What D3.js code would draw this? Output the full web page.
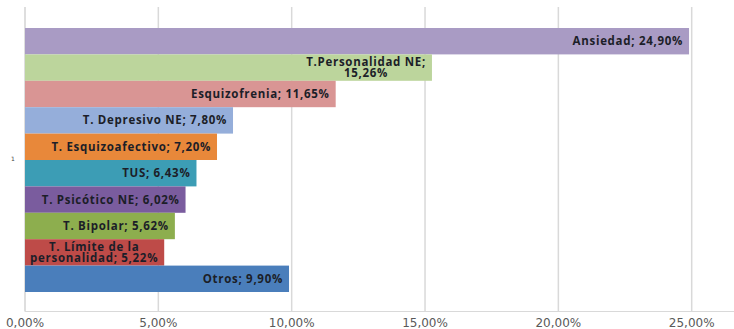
<!DOCTYPE html>
<html><head><meta charset="utf-8">
<script src="https://cdn.jsdelivr.net/npm/d3@7"></script>
<style>
html,body{margin:0;padding:0;background:#fff;}
svg{display:block;}
</style>
</head><body>
<svg id="chart" width="734" height="329"></svg>
<script>
const categories = ["Ansiedad","T.Personalidad NE","Esquizofrenia","T. Depresivo NE","T. Esquizoafectivo","TUS","T. Psicótico NE","T. Bipolar","T. Límite de la personalidad","Otros"];
const values = [24.90, 15.26, 11.65, 7.80, 7.20, 6.43, 6.02, 5.62, 5.22, 9.90];
const labelLines = [
  ["Ansiedad; 24,90%"],
  ["T.Personalidad NE;","15,26%"],
  ["Esquizofrenia; 11,65%"],
  ["T. Depresivo NE; 7,80%"],
  ["T. Esquizoafectivo; 7,20%"],
  ["TUS; 6,43%"],
  ["T. Psicótico NE; 6,02%"],
  ["T. Bipolar; 5,62%"],
  ["T. Límite de la","personalidad; 5,22%"],
  ["Otros; 9,90%"]
];
const colors = ["#A99BC4","#BCD59C","#D99594","#95AEDA","#E8883A","#3C9DB5","#7A5C9E","#8DAE4E","#BE4B48","#4A7EBB"];
const xTicks = [0,5,10,15,20,25];
const categoryLabel = "1";

const svg = d3.select("#chart");
const x = d3.scaleLinear().domain([0,25]).range([25,691.7]);
const yTop = 7, yBot = 311.5;
const y = d3.scaleBand().domain(categories).range([28,292]).padding(0);

// gridlines
svg.append("g").selectAll("line").data(xTicks.filter(d=>d>0)).join("line")
  .attr("x1",d=>x(d)).attr("x2",d=>x(d)).attr("y1",yTop).attr("y2",yBot)
  .attr("stroke","#d9d9d9").attr("stroke-width",1.5);

// axis lines
svg.append("line").attr("x1",x(0)).attr("x2",x(0)).attr("y1",yTop).attr("y2",yBot)
  .attr("stroke","#c8c8c8").attr("stroke-width",1.2);
svg.append("line").attr("x1",x(0)).attr("x2",734).attr("y1",yBot).attr("y2",yBot)
  .attr("stroke","#d9d9d9").attr("stroke-width",1.2);

// bars
svg.append("g").selectAll("rect").data(categories).join("rect")
  .attr("x",x(0)).attr("y",d=>y(d)).attr("height",y.bandwidth())
  .attr("width",(d,i)=>x(values[i])-x(0))
  .attr("fill",(d,i)=>colors[i]);

// labels
const lg = svg.append("g").attr("font-family","'Open Sans', sans-serif")
  .attr("font-weight","bold").attr("font-size","11.5px").attr("letter-spacing","0.7px").attr("fill","#1c1e28");
categories.forEach((c,i)=>{
  const lines = labelLines[i];
  const g = lg.append("g");
  const lh = 11.5;
  const cy = y(c)+y.bandwidth()/2;
  const texts = lines.map((l,j)=> g.append("text").attr("text-anchor","middle")
      .attr("x",0).attr("y",cy + (j-(lines.length-1)/2)*lh).attr("dy","0.35em").text(l));
  const w = d3.max(texts, t=>t.node().getComputedTextLength());
  const right = x(values[i]) - 6;
  texts.forEach(t=>t.attr("x", right - w/2));
});

// x tick labels
svg.append("g").selectAll("text").data(xTicks).join("text")
  .attr("x",d=>x(d)).attr("y",323).attr("dy","0.35em").attr("text-anchor","middle")
  .attr("font-family","'DejaVu Sans', Verdana, sans-serif").attr("font-size","12px")
  .attr("fill","#595959").text(d=>d3.format(".2f")(d).replace(".",",")+"%");

// category label
svg.append("text").attr("x",13).attr("y",y.range()[0]+(y.range()[1]-y.range()[0])/2 - 1)
  .attr("dy","0.35em").attr("text-anchor","middle")
  .attr("font-family","'DejaVu Sans', sans-serif").attr("font-size","6px").attr("fill","#444")
  .text(categoryLabel);
</script>
</body></html>
